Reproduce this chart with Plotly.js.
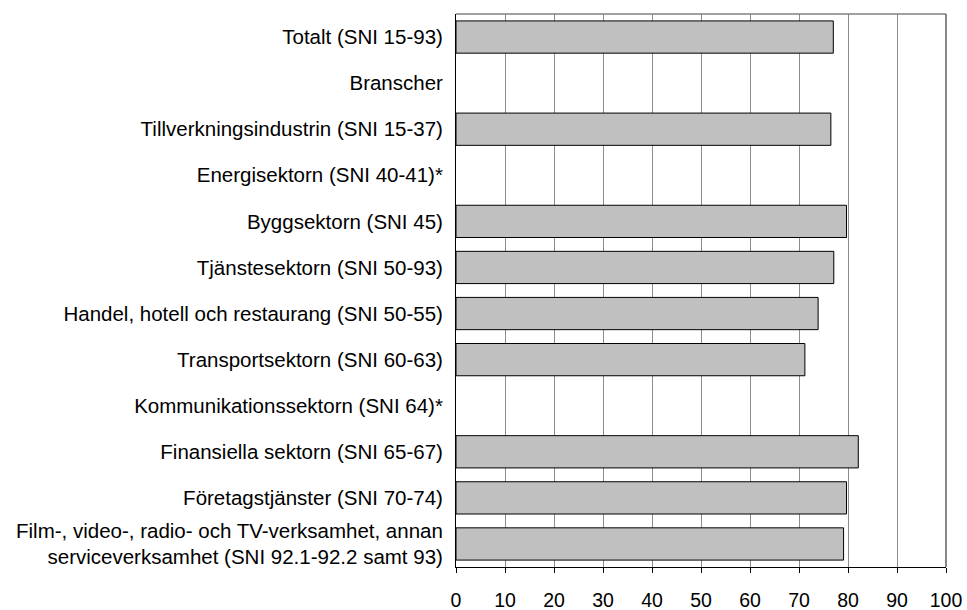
<!DOCTYPE html>
<html>
<head>
<meta charset="utf-8">
<script src="https://cdn.plot.ly/plotly-3.0.1.min.js"></script>
<style>html,body{margin:0;padding:0;background:#fff;}#chart{width:967px;height:610px;}</style>
</head>
<body>
<div id="chart"></div>
<script>
const categories = [
  "Totalt (SNI 15-93)",
  "Branscher",
  "Tillverkningsindustrin (SNI 15-37)",
  "Energisektorn (SNI 40-41)*",
  "Byggsektorn (SNI 45)",
  "Tjänstesektorn (SNI 50-93)",
  "Handel, hotell och restaurang (SNI 50-55)",
  "Transportsektorn (SNI 60-63)",
  "Kommunikationssektorn (SNI 64)*",
  "Finansiella sektorn (SNI 65-67)",
  "Företagstjänster (SNI 70-74)",
  "Film-, video-, radio- och TV-verksamhet, annan<br>serviceverksamhet (SNI 92.1-92.2 samt 93)"
];
const values = [77.0, null, 76.5, null, 79.7, 77.1, 73.9, 71.2, null, 82.1, 79.7, 79.1];
const xTicks = [0, 10, 20, 30, 40, 50, 60, 70, 80, 90, 100];

const trace = {
  type: "bar",
  orientation: "h",
  x: values,
  y: categories,
  marker: { color: "#c0c0c0", line: { color: "#000000", width: 1 } },
  hoverinfo: "x+y"
};

const layout = {
  width: 967,
  height: 610,
  margin: { l: 456, r: 21, t: 14, b: 43, pad: 0 },
  paper_bgcolor: "#ffffff",
  plot_bgcolor: "#ffffff",
  font: { family: "Liberation Sans, Arial, sans-serif", size: 20.5, color: "#000000" },
  bargap: 0.3,
  showlegend: false,
  xaxis: {
    range: [0, 100],
    tickvals: xTicks,
    ticktext: xTicks.map(String),
    showgrid: true,
    gridcolor: "#8c8c8c",
    gridwidth: 1,
    zeroline: false,
    showline: true,
    linecolor: "#000000",
    linewidth: 1,
    ticks: "outside",
    ticklen: 5,
    tickcolor: "#000000",
    ticklabelstandoff: 11,
    tickfont: { size: 19.5 },
    fixedrange: true
  },
  yaxis: {
    type: "category",
    autorange: "reversed",
    showgrid: false,
    zeroline: false,
    showline: true,
    linecolor: "#000000",
    linewidth: 1,
    ticks: "",
    ticklabelstandoff: 8,
    tickfont: { size: 20.5 },
    fixedrange: true
  },
  shapes: [
    { type: "line", xref: "paper", yref: "paper", x0: 0, x1: 1, y0: 1, y1: 1, line: { color: "#808080", width: 1.5 } },
    { type: "line", xref: "paper", yref: "paper", x0: 1, x1: 1, y0: 0, y1: 1, line: { color: "#606060", width: 1.5 } }
  ]
};

Plotly.newPlot("chart", [trace], layout, { displayModeBar: false, staticPlot: true });
</script>
</body>
</html>
